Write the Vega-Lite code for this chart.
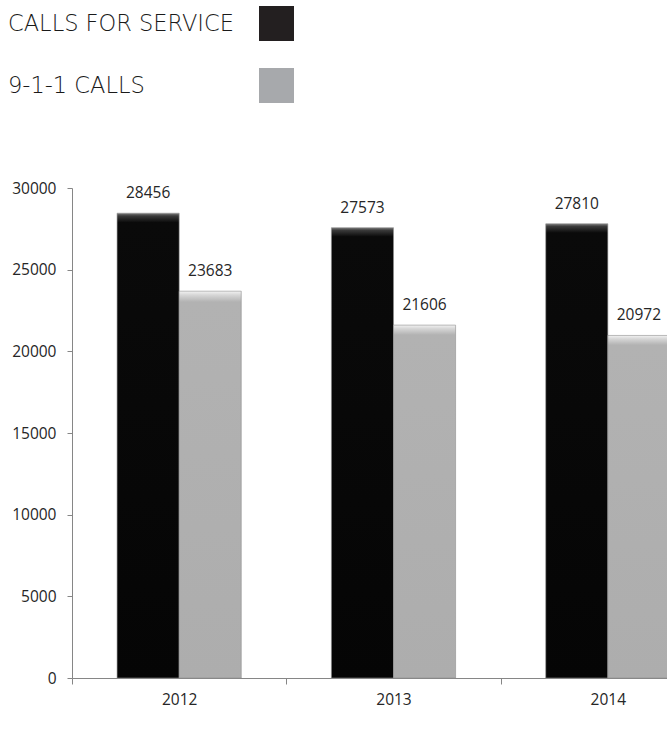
{
  "$schema": "https://vega.github.io/schema/vega-lite/v6.json",
  "width": 643,
  "height": 490,
  "autosize": {"type": "none"},
  "padding": {"left": 72, "top": 188, "right": 0, "bottom": 58},
  "background": "white",
  "config": {"view": {"stroke": null}, "font": "Open Sans", "axis": {"grid": false}},
  "data": {"values": [
    {"year": "2012", "series": "CALLS FOR SERVICE", "calls": 28456},
    {"year": "2012", "series": "9-1-1 CALLS", "calls": 23683},
    {"year": "2013", "series": "CALLS FOR SERVICE", "calls": 27573},
    {"year": "2013", "series": "9-1-1 CALLS", "calls": 21606},
    {"year": "2014", "series": "CALLS FOR SERVICE", "calls": 27810},
    {"year": "2014", "series": "9-1-1 CALLS", "calls": 20972}
  ]},
  "encoding": {
    "x": {
      "field": "year", "type": "nominal",
      "scale": {"paddingInner": 0, "paddingOuter": 0},
      "axis": {"title": null, "labelAngle": 0, "tickBand": "extent", "tickSize": 6,
               "domainColor": "#868686", "tickColor": "#868686", "labelFontSize": 15.5,
               "labelColor": "#262626", "labelPadding": 8}
    },
    "xOffset": {"field": "series", "type": "nominal", "sort": ["CALLS FOR SERVICE", "9-1-1 CALLS"],
                "scale": {"paddingInner": 0, "paddingOuter": 0.726}},
    "y": {
      "field": "calls", "type": "quantitative",
      "scale": {"domain": [0, 30000]},
      "axis": {"title": null, "values": [0, 5000, 10000, 15000, 20000, 25000, 30000], "format": "d",
               "domainColor": "#868686", "tickColor": "#868686", "tickSize": 5,
               "labelFontSize": 15.5, "labelColor": "#262626", "labelPadding": 11}
    }
  },
  "layer": [
    {
      "mark": {"type": "bar", "opacity": 0},
      "encoding": {
        "color": {
          "field": "series", "type": "nominal",
          "scale": {"domain": ["CALLS FOR SERVICE", "9-1-1 CALLS"], "range": ["#231f20", "#a7a9ac"]},
          "legend": {
            "orient": "none", "legendX": 187, "legendY": -182, "title": null,
            "padding": 0, "direction": "vertical",
            "symbolType": "square", "symbolSize": 1225, "symbolStrokeWidth": 0, "symbolOpacity": 1,
            "labelFont": "DejaVu Sans", "labelFontSize": 22.5, "labelFontWeight": 200, "labelColor": "#1a1a1a",
            "labelAlign": "left", "labelOffset": -286, "labelLimit": 400, "rowPadding": 27,
            "encode": {"symbols": {"update": {"opacity": {"value": 1}, "fillOpacity": {"value": 1}}}}
          }
        }
      }
    },
    {
      "mark": {"type": "bar", "stroke": "#8f8f8f", "strokeWidth": 0.6},
      "encoding": {
        "fill": {
          "condition": {
            "test": "datum.series === 'CALLS FOR SERVICE'",
            "value": {"gradient": "linear", "x1": 0, "y1": 0, "x2": 0, "y2": 1, "stops": [
              {"offset": 0, "color": "#7a7a7a"}, {"offset": 0.006, "color": "#3a3a3a"},
              {"offset": 0.02, "color": "#0a0a0a"}, {"offset": 1, "color": "#050505"}]}
          },
          "value": {"gradient": "linear", "x1": 0, "y1": 0, "x2": 0, "y2": 1, "stops": [
            {"offset": 0, "color": "#f2f2f2"}, {"offset": 0.01, "color": "#d6d6d6"},
            {"offset": 0.028, "color": "#b2b2b2"}, {"offset": 1, "color": "#adadad"}]}
        }
      }
    },
    {
      "mark": {"type": "text", "baseline": "bottom", "dy": -12, "fontSize": 15.5, "color": "#262626"},
      "encoding": {"text": {"field": "calls", "type": "quantitative", "format": "d"}}
    }
  ]
}
